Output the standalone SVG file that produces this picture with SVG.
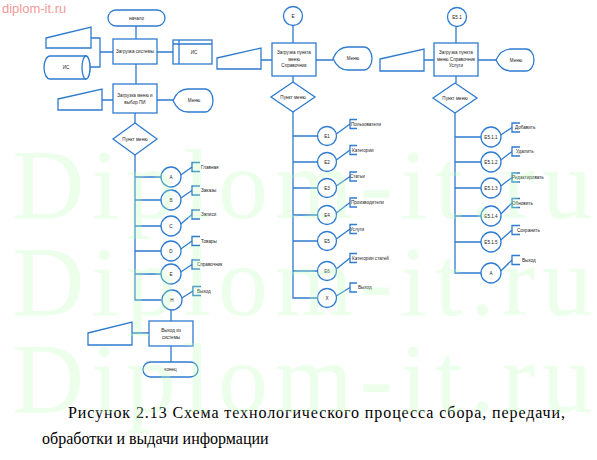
<svg xmlns="http://www.w3.org/2000/svg" width="597" height="460" viewBox="0 0 597 460">
<style>
.s{fill:#fff;stroke:#2e7bcf;stroke-width:1.3}
.c{fill:none;stroke:#2e7bcf;stroke-width:1.3}
.t{font-family:"Liberation Sans",Arial,sans-serif;font-size:4.6px;fill:#222;text-anchor:middle}
.l{font-family:"Liberation Sans",Arial,sans-serif;font-size:4.6px;fill:#222}
.wm{font-family:"Liberation Serif","Times New Roman",serif;font-size:100px;fill:#b8ffb8;opacity:.28}
.cap{font-family:"Liberation Serif","Times New Roman",serif;font-size:16px;fill:#000}
</style>
<rect width="597" height="460" fill="#fff"/>
<text x="2" y="13" style="font-family:'Liberation Sans',Arial,sans-serif;font-size:13px;fill:#f29a9a">diplom-it.ru</text>

<g id="connectors">
<path class="c" d="M136,26V39M136,64V84M135,113V123M91,38H100V67H90M100,52H113M157,52H173M102,100H113M157,100H173"/>
<path class="c" d="M135,155V300H161M135,177H161M135,200H161M135,226H161M135,251H161M135,274H161"/>
<path class="c" d="M171,310V321M171,346V362M132,333H149"/>
<path class="c" d="M293,25.5V43M261,60H272M316,60H333M293,76V82M293,112V298H317.5M293,136H317.5M293,162H317.5M293,188H317.5M293,215H317.5M293,241H317.5M293,271H317.5"/>
<path class="c" d="M456,27V43M424,60H434M478,60H496M456,76V83M455,113V273H481M455,137H481M455,162H481M455,188H481M455,216H481M455,242H481"/>
<path class="c" d="M180.8,175L192,167M180.8,198L192,190.5M180.8,224L192,214.5M180.8,249L192,241M180.8,272L192,264.5M181.8,298L193,291"/>
<path class="c" d="M336.3,134L350,124M336.3,160L350,150M336.3,186L350,176.5M336.3,213L350,202.5M336.3,239L350,229M336.3,269L350,258M336.3,296L350,287.5"/>
<path class="c" d="M500.8,135L512,127.5M500.8,160L512,151.5M500.8,186L512,177.5M500.8,214L512,203M500.8,240L512,230M500.8,271L512,260"/>
</g>

<g id="start"><rect class="s" x="108" y="10" width="57" height="16" rx="8"/><text class="t" x="136.5" y="19.8">начало</text></g>
<g id="load-system"><rect class="s" x="113" y="39" width="44" height="25"/><text class="t" x="135" y="53">Загрузка системы</text></g>
<g id="input1"><polygon class="s" points="46,38 91,27 91,48 46,48"/></g>
<g id="db1"><path class="s" d="M50,56H86A4,11.5 0 0 1 86,79H50A6,11.5 0 0 1 50,56Z"/><ellipse class="s" cx="86" cy="67.5" rx="4" ry="11.5"/><text class="t" x="66" y="69">ИС</text></g>
<g id="store1"><rect class="s" x="173" y="40" width="39" height="24"/><path class="c" d="M179,40V64M173,44H212"/><text class="t" x="194" y="54">ИС</text></g>
<g id="load-menu"><rect class="s" x="113" y="84" width="44" height="29"/><text class="t" x="135" y="97">Загрузка меню и</text><text class="t" x="135" y="104">выбор ПИ</text></g>
<g id="input2"><polygon class="s" points="58,99 102,89 102,110 58,110"/></g>
<g id="menu1"><path class="s" d="M173,100.5Q178,89 188,89H205A8,11.5 0 0 1 205,112H188Q178,112 173,100.5Z"/><text class="t" x="194" y="102">Меню</text></g>
<g id="dec1"><polygon class="s" points="135,123 157,139 135,155 113,139"/><text class="t" x="135" y="140.5">Пункт меню</text></g>

<g id="left-items">
<circle class="s" cx="171" cy="177" r="10"/><text class="t" x="171" y="178.7">A</text>
<circle class="s" cx="171" cy="200" r="10"/><text class="t" x="171" y="201.7">B</text>
<circle class="s" cx="171" cy="226" r="10"/><text class="t" x="171" y="227.7">C</text>
<circle class="s" cx="171" cy="251" r="10"/><text class="t" x="171" y="252.7">D</text>
<circle class="s" cx="171" cy="274" r="10"/><text class="t" x="171" y="275.7">E</text>
<circle class="s" cx="172" cy="300" r="10"/><text class="t" x="172" y="301.7">H</text>
<path class="c" d="M200,162.5H192V171.5H200M200,186H192V195H200M200,210H192V219H200M200,236.5H192V245.5H200M200,260H192V269H200M201,286.5H193V295.5H201"/>
<text class="l" x="201" y="168.7">Главная</text>
<text class="l" x="201" y="192.2">Заказы</text>
<text class="l" x="201" y="216.2">Записи</text>
<text class="l" x="201" y="242.7">Товары</text>
<text class="l" x="197" y="266.2">Справочник</text>
<text class="l" x="197" y="292.7">Выход</text>
</g>

<g id="exit-system"><rect class="s" x="149" y="321" width="44" height="25"/><text class="t" x="171" y="332">Выход из</text><text class="t" x="171" y="339">системы</text></g>
<g id="input3"><polygon class="s" points="88,333 132,322 132,345 88,345"/></g>
<g id="end"><rect class="s" x="143" y="362" width="55" height="15" rx="7.5"/><text class="t" x="170.5" y="371.3">конец</text></g>

<g id="conn-E"><circle class="s" cx="293" cy="16" r="9.5"/><text class="t" x="293" y="17.7">E</text></g>
<g id="load-ref"><rect class="s" x="272" y="43" width="44" height="33"/><text class="t" x="294" y="54">Загрузка пункта</text><text class="t" x="294" y="60.5">меню</text><text class="t" x="294" y="67">Справочник</text></g>
<g id="input4"><polygon class="s" points="217,58 261,48 261,69 217,69"/></g>
<g id="menu2"><path class="s" d="M333,58.5Q338,47 348,47H364A8,11.5 0 0 1 364,70H348Q338,70 333,58.5Z"/><text class="t" x="353" y="60">Меню</text></g>
<g id="dec2"><polygon class="s" points="293,82 315,97 293,112 271,97"/><text class="t" x="293" y="98.5">Пункт меню</text></g>

<g id="mid-items">
<circle class="s" cx="327" cy="136" r="9.5"/><text class="t" x="327" y="137.7">E1</text>
<circle class="s" cx="327" cy="162" r="9.5"/><text class="t" x="327" y="163.7">E2</text>
<circle class="s" cx="327" cy="188" r="9.5"/><text class="t" x="327" y="189.7">E3</text>
<circle class="s" cx="327" cy="215" r="9.5"/><text class="t" x="327" y="216.7">E4</text>
<circle class="s" cx="327" cy="241" r="9.5"/><text class="t" x="327" y="242.7">E5</text>
<circle class="s" cx="327" cy="271" r="9.5"/><text class="t" x="327" y="272.7">E6</text>
<circle class="s" cx="327" cy="298" r="9.5"/><text class="t" x="327" y="299.7">X</text>
<path class="c" d="M357,119.5H350V128.5H357M357,145.5H350V154.5H357M357,172H350V181H357M357,198H350V207H357M357,224.5H350V233.5H357M357,253.5H350V262.5H357M357,283H350V292H357"/>
<text class="l" x="351" y="125.7">Пользователи</text>
<text class="l" x="352" y="151.7">Категории</text>
<text class="l" x="350" y="178.2">Статьи</text>
<text class="l" x="351" y="204.2">Производители</text>
<text class="l" x="350" y="230.7">Услуги</text>
<text class="l" x="352" y="259.7">Категории статей</text>
<text class="l" x="358" y="289.2">Выход</text>
</g>

<g id="conn-E51"><circle class="s" cx="457" cy="17" r="9.5"/><text class="t" x="457" y="18.7">E5.1</text></g>
<g id="load-serv"><rect class="s" x="434" y="43" width="44" height="33"/><text class="t" x="456" y="54">Загрузка пункта</text><text class="t" x="456" y="60.5">меню Справочник</text><text class="t" x="456" y="67">Услуги</text></g>
<g id="input5"><polygon class="s" points="380,59 424,49 424,71 380,71"/></g>
<g id="menu3"><path class="s" d="M496,60Q501,49 511,49H526A8,11 0 0 1 526,71H511Q501,71 496,60Z"/><text class="t" x="516" y="61.5">Меню</text></g>
<g id="dec3"><polygon class="s" points="455,83 477,98 455,113 433,98"/><text class="t" x="455" y="99.5">Пункт меню</text></g>

<g id="right-items">
<circle class="s" cx="491" cy="137" r="10"/><text class="t" x="491" y="138.7">E5.1.1</text>
<circle class="s" cx="491" cy="162" r="10"/><text class="t" x="491" y="163.7">E5.1.2</text>
<circle class="s" cx="491" cy="188" r="10"/><text class="t" x="491" y="189.7">E5.1.3</text>
<circle class="s" cx="491" cy="216" r="10"/><text class="t" x="491" y="217.7">E5.1.4</text>
<circle class="s" cx="491" cy="242" r="10"/><text class="t" x="491" y="243.7">E5.1.5</text>
<circle class="s" cx="491" cy="273" r="10"/><text class="t" x="491" y="274.7">A</text>
<path class="c" d="M520,123H512V132H520M520,147H512V156H520M520,173H512V182H520M520,198.5H512V207.5H520M520,225.5H512V234.5H520M520,255.5H512V264.5H520"/>
<text class="l" x="515" y="129.2">Добавить</text>
<text class="l" x="516" y="153.2">Удалить</text>
<text class="l" x="512" y="179.2">Редактировать</text>
<text class="l" x="512" y="204.7">Обновить</text>
<text class="l" x="517" y="231.7">Сохранить</text>
<text class="l" x="522" y="261.7">Выход</text>
</g>

<text class="cap" x="68" y="418" textLength="497" lengthAdjust="spacing">Рисунок 2.13 Схема технологического процесса сбора, передачи,</text>
<text class="cap" x="42" y="444">обработки и выдачи информации</text>

<g id="watermark">
<text class="wm" x="12" y="218" textLength="580" lengthAdjust="spacing">Diplom-it.ru</text>
<text class="wm" x="12" y="315" textLength="580" lengthAdjust="spacing">Diplom-it.ru</text>
<text class="wm" x="12" y="412" textLength="580" lengthAdjust="spacing">Diplom-it.ru</text>
</g>
</svg>
